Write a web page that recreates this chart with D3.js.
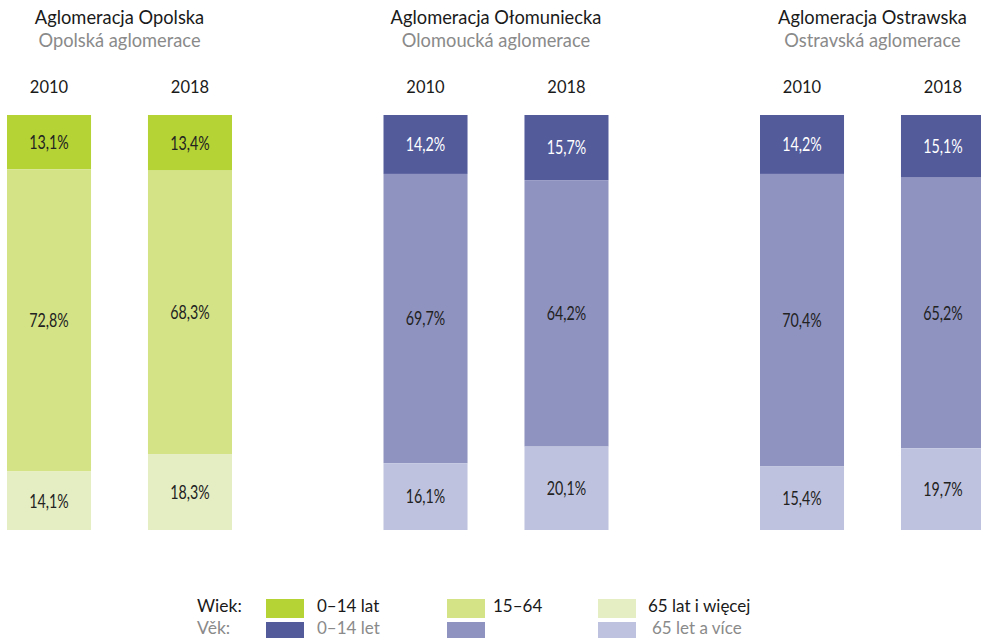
<!DOCTYPE html>
<html>
<head>
<meta charset="utf-8">
<script src="https://cdn.jsdelivr.net/npm/d3@7"></script>
<style>
  body { margin: 0; background: #fff; }
  svg { display: block; }
  .title { font-family: "Lato", "Noto Sans", sans-serif; }
  .val { font-family: "Lato", "Noto Sans", sans-serif; }
</style>
</head>
<body>
<div id="chart"></div>
<script>
var svgWidth = 981;
var svgHeight = 638;

// Data
var regionsPl = ["Aglomeracja Opolska", "Aglomeracja Ołomuniecka", "Aglomeracja Ostrawska"];
var regionsCz = ["Opolská aglomerace", "Olomoucká aglomerace", "Ostravská aglomerace"];
var years = ["2010", "2018"];
var agesPl = ["0–14 lat", "15–64", "65 lat i więcej"];
var agesCz = ["0–14 let", "", "65 let a více"];
// values per region, per year: [0-14, 15-64, 65+]
var opole = [[13.1, 72.8, 14.1], [13.4, 68.3, 18.3]];
var olomouc = [[14.2, 69.7, 16.1], [15.7, 64.2, 20.1]];
var ostrava = [[14.2, 70.4, 15.4], [15.1, 65.2, 19.7]];
var regionValues = [opole, olomouc, ostrava];

var greens = ["#b5d334", "#d4e386", "#e5eec3"];
var blues = ["#535b9b", "#8f93c0", "#bfc2de"];
var palettes = [greens, blues, blues];

var svg = d3.select("#chart")
  .append("svg")
  .attr("width", svgWidth)
  .attr("height", svgHeight);

// Scales
var groupScale = d3.scaleBand()
  .domain(regionsPl)
  .range([7, 7 + 3 * 376.5]);

var yearScale = d3.scaleBand()
  .domain(years)
  .range([0, 225])
  .paddingInner(0.404);

var yScale = d3.scaleLinear()
  .domain([0, 100])
  .range([115, 530]);

regionsPl.forEach(function(region, gi) {
  var g = svg.append("g")
    .attr("transform", `translate(${groupScale(region)}, 0)`);
  var cx = 112.5;

  g.append("text")
    .attr("class", "title")
    .attr("x", cx)
    .attr("y", 24)
    .attr("text-anchor", "middle")
    .attr("font-size", "18.3px")
    .attr("fill", "#1a1a1a")
    .text(region);

  g.append("text")
    .attr("class", "title")
    .attr("x", cx)
    .attr("y", 47)
    .attr("text-anchor", "middle")
    .attr("font-size", "18.3px")
    .attr("fill", "#8a8a8a")
    .text(regionsCz[gi]);

  years.forEach(function(year, yi) {
    var vals = regionValues[gi][yi];
    var x0 = yearScale(year);
    var bw = yearScale.bandwidth();

    g.append("text")
      .attr("class", "title")
      .attr("x", x0 + bw / 2)
      .attr("y", 93)
      .attr("text-anchor", "middle")
      .attr("font-size", "16.5px")
      .attr("fill", "#1a1a1a")
      .text(year);

    var stacked = [];
    var acc = 0;
    vals.forEach(function(v, i) {
      stacked.push({ y0: acc, y1: acc + v, v: v, i: i });
      acc += v;
    });

    var seg = g.selectAll(null)
      .data(stacked)
      .enter()
      .append("g");

    seg.append("rect")
      .attr("x", x0)
      .attr("y", d => yScale(d.y0))
      .attr("width", bw)
      .attr("height", d => yScale(d.y1) - yScale(d.y0))
      .attr("fill", d => palettes[gi][d.i]);

    // narrow labels, squeezed horizontally
    seg.append("text")
      .attr("class", "val")
      .attr("transform", d => `translate(${x0 + bw / 2}, ${(yScale(d.y0) + yScale(d.y1)) / 2}) scale(0.75, 1)`)
      .attr("dy", "0.36em")
      .attr("text-anchor", "middle")
      .attr("font-size", "19px")
      .attr("fill", d => (gi > 0 && d.i === 0) ? "#ffffff" : "#222222")
      .text(d => d3.format(".1f")(d.v).replace(".", ",") + "%");
  });
});

// Legend
var legend = svg.append("g").attr("class", "title");
var legendX = [266, 447, 598];
var labelX = [317, 493, 648];

legend.append("text")
  .attr("x", 197).attr("y", 612)
  .attr("font-size", "17.5px").attr("fill", "#1a1a1a")
  .text("Wiek:");
legend.append("text")
  .attr("x", 197).attr("y", 634)
  .attr("font-size", "17.5px").attr("fill", "#8a8a8a")
  .text("Věk:");

agesPl.forEach(function(a, i) {
  legend.append("rect")
    .attr("x", legendX[i]).attr("y", 599)
    .attr("width", 38).attr("height", 19)
    .attr("fill", greens[i]);
  legend.append("rect")
    .attr("x", legendX[i]).attr("y", 622)
    .attr("width", 38).attr("height", 19)
    .attr("fill", blues[i]);
  legend.append("text")
    .attr("x", labelX[i]).attr("y", 612)
    .attr("font-size", "17px").attr("fill", "#1a1a1a")
    .text(a);
  legend.append("text")
    .attr("x", labelX[i] + (i === 2 ? 4 : 0)).attr("y", 634)
    .attr("font-size", "17px").attr("fill", "#8a8a8a")
    .text(agesCz[i]);
});
</script>
</body>
</html>
